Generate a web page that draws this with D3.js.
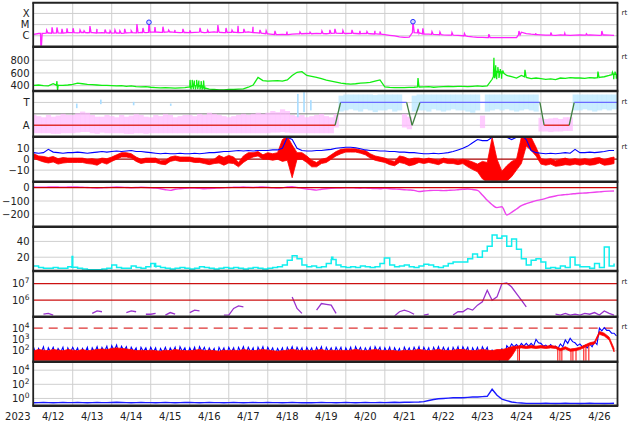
<!DOCTYPE html>
<html><head><meta charset="utf-8">
<script src="https://cdn.jsdelivr.net/npm/d3@7"></script>
<style>
body{margin:0;background:#fff}
svg{display:block}
text{font-family:"DejaVu Sans",sans-serif;fill:#222}
</style></head>
<body><svg id="c" width="634" height="424"></svg>
<script>
// ---------- data (one sample every 3 hours from 2023-04-12 00:00 UT) ----------
const STEP_H = 3;
const dayLabels = ["4/12","4/13","4/14","4/15","4/16","4/17","4/18","4/19","4/20","4/21","4/22","4/23","4/24","4/25","4/26"];
const yearLabel = "2023";

// X-ray flux, log10 W/m2
const xrayLog = [
-5.88,-5.8,-5.78,-5.75,-5.78,-5.74,-5.76,-5.72,
-5.72,-5.74,-5.7,-5.73,-5.72,-5.75,-5.73,-5.74,
-5.76,-5.74,-5.78,-5.75,-5.72,-5.74,-5.7,-5.72,
-5.68,-5.66,-5.7,-5.68,-5.65,-5.7,-5.72,-5.7,
-5.72,-5.7,-5.68,-5.72,-5.7,-5.66,-5.7,-5.72,
-5.7,-5.68,-5.72,-5.7,-5.66,-5.72,-5.75,-5.78,
-5.84,-5.88,-5.9,-5.88,-5.9,-5.86,-5.84,-5.82,
-5.8,-5.82,-5.78,-5.8,-5.82,-5.78,-5.76,-5.78,
-5.8,-5.78,-5.8,-5.82,-5.8,-5.82,-5.84,-5.86,
-5.9,-5.96,-6.02,-6.1,-6.15,-6.12,-5.6,-5.78,
-5.84,-5.86,-5.88,-5.9,-5.92,-5.94,-5.95,-5.97,
-6.0,-6.05,-6.1,-6.14,-6.15,-6.16,-6.17,-6.17,
-6.17,-6.16,-6.17,-6.17,-5.68,-5.8,-5.86,-5.9,
-5.92,-5.95,-5.94,-5.96,-5.93,-5.95,-5.96,-5.94,
-5.93,-5.95,-5.92,-5.94,-5.96,-5.93,-5.95,-5.97];
// short X-ray bursts: [hour, log10 flux]
const xrayBursts = [[4.5,-7.5],[8,-5.5],[11.3,-5.24],[14.3,-5.26],[17.4,-5.39],[20.5,-5.33],[24.2,-5.33],[28.5,-5.48],
[31,-5.55],[34.6,-5.13],[38.9,-5.39],[43.9,-5.44],[47,-5.55],[50,-5.48],[53,-5.55],[56,-5.39],[60,-5.55],[63.5,-4.95],[67.2,-5.3],[70.9,-4.79],[74.6,-5.22],
[79.5,-5.19],[83,-5.5],[86.9,-5.48],[91.8,-5.39],[96,-5.52],[102.3,-5.3],[107,-5.5],[113.3,-5.04],[118.3,-5.3],[122,-5.5],[125.7,-5.1],[129.3,-5.39],
[134.9,-5.19],[139.2,-5.48],[143,-5.55],[148.4,-5.57],[155.8,-5.62],[163.8,-5.66],[170,-5.68],[177.3,-5.57],[182.2,-5.48],[185.3,-5.39],
[190.2,-5.53],[195.8,-5.48],[200.7,-5.57],[205,-5.62],[209.9,-5.55],[213,-5.62],[233.3,-4.74],[236.4,-5.39],[239.4,-5.33],
[245,-5.64],[249.9,-5.66],[257.3,-5.71],[265,-5.8],[280,-5.85],[298.5,-5.57],[308.9,-5.78],[318.1,-5.71],[326.7,-5.78],[340,-5.82],[349.5,-5.57]];
const xrayFlares = [[70.9,-4.79],[233.3,-4.74]];

// solar wind speed km/s
const windSpeed = [
405,410,400,395,430,400,405,410,
420,440,430,420,415,410,405,405,
400,395,400,390,395,385,380,385,
375,370,365,370,365,360,365,370,
380,400,400,360,345,340,335,335,
340,340,345,350,375,410,530,480,
470,475,480,470,490,560,610,620,
560,545,530,510,485,470,455,440,
430,425,430,440,445,450,470,490,
380,372,370,368,370,372,375,380,
380,385,375,380,385,390,385,390,
390,385,390,395,390,395,500,620,
600,560,540,520,560,530,510,520,
510,500,505,495,520,515,525,520,
520,515,525,520,530,540,560,580];
const windSpikes = [[14.3,470],[14.7,330],[96.2,490],[96.8,340],[97.5,490],[98.2,345],[98.8,480],[99.5,340],
[100.2,490],[100.9,345],[101.6,480],[102.3,340],[103,470],[103.7,350],[104.5,480],[105.2,350],[236.4,520],
[283.1,840],[283.6,520],[284.2,720],[284.8,500],[285.5,690],[286.2,520],[287,660],[287.8,510],[288.5,640],
[302.2,650],[347.1,620],[356,610],[356.8,500],[357.6,620],[358.4,510]];

// IMF sector (+1 toward, -1 away): scatter centre and half-spread
const imfMid = [
-0.9,-0.95,-1.0,-0.9,-1.0,-0.95,-0.85,-0.9,
-0.9,-0.8,-0.7,-0.75,-0.9,-1.0,-0.95,-0.9,
-0.95,-1.0,-0.9,-1.0,-0.95,-0.85,-0.9,-1.0,
-1.0,-0.9,-0.95,-0.85,-0.9,-1.0,-0.95,-0.9,
-0.9,-0.95,-0.85,-0.9,-0.8,-0.85,-0.9,-0.95,
-1.0,-0.95,-0.9,-0.85,-0.9,-0.85,-0.8,-0.85,
-0.8,-0.7,-0.75,-0.6,-0.7,-0.9,-0.95,-0.9,
-1.0,-0.95,-0.9,-0.85,-0.95,-1.0,-0.6,0.9,
1.0,1.05,1.0,0.95,1.05,1.0,0.9,1.0,
1.0,1.05,0.95,1.0,-0.6,-0.8,0.9,1.0,
1.0,0.95,1.05,1.0,0.95,1.0,1.05,1.0,
1.0,0.95,0.9,1.0,-0.7,0.95,1.0,1.05,
1.0,1.05,1.0,0.95,1.0,1.05,1.0,0.95,
-0.95,-1.0,-1.0,-0.95,-1.0,-0.9,-0.9,1.0,
1.0,1.05,1.0,0.95,1.0,1.05,1.0,1.05];
const imfSpread = [
.8,.75,.7,.8,.75,.8,.85,.8,
.8,.85,.9,.85,.8,.75,.7,.8,
.75,.7,.8,.75,.8,.85,.8,.75,
.7,.8,.75,.85,.8,.7,.75,.8,
.8,.75,.85,.8,.9,.85,.8,.75,
.7,.75,.8,.85,.8,.85,.9,.85,
.9,.95,.9,1.0,.95,.8,.75,.8,
.7,.75,.8,.85,.75,.7,.6,.7,
.7,.65,.7,.75,.65,.7,.75,.7,
.7,.65,.75,.7,.6,.55,.7,.7,
.7,.75,.65,.7,.75,.7,.65,.7,
.7,.75,.8,.7,.55,.75,.7,.65,
.7,.65,.7,.75,.7,.65,.7,.75,
.6,.55,.6,.6,.55,.6,.6,.7,
.7,.65,.7,.75,.7,.65,.7,.65];
const imfSpots = [[26,0.5,0.9],[40.8,0.85,1.25],[61,0.75,1.05],[83.8,0.7,0.9],[162,-0.3,1.75],[165.8,0.15,1.9],[170,0.3,1.2]];
const sectorHours = [0,185.4,188.8,229.4,232.8,237.6,311.4,314,329.4,332.5,359];
const sectorState = [-1,-1,1,1,-1,1,1,-1,-1,1,1];

// IMF Bt and Bz (nT)
const bt = [
6,5.5,6,9,6.5,6,5.5,6,
6,6.5,6,5.5,6,6.5,7,6.5,
7,7.5,7,7.5,8,7,7,6.5,
6,5.5,5,5.5,5,5,5.5,5,
5,5.5,5,5.5,6,6,6.5,7,
7,7.5,8,7.5,8,7.5,8,8,
8,8.5,8.5,10,20,18,10,8,
7.5,7.5,8,8,8.5,9,10,10.5,
11,11,10.5,9.5,8.5,8,8,7.5,
7.5,7,7,6.5,6.5,6,6,5.5,
5,5,5.5,5,5.5,6,7,8.5,
10,12,15,18,17,17,20,21,
22,20,18,20,22,18,8,6,
5.5,5,5.5,5,5.5,6,5.5,9,
6,6,6.5,6,6.5,7,8,8];
const bzMid = [
3,1,0,-1,0,-2,-1,-1,
-1,-1,-1,-2,-2,-3,-1,-2,
0,2,4,4,3,0,-2,-1,
-1,-1,-3,-3,0,1,0,0,
0,-1,-1,-2,-3,-2,0,-2,
0,-1,-5,0,3,4,5,2,
3,2,3,8,10,-2,3,3,
0,-4,-5,-2,-1,2,5,7,
8,8,8,7,6,3,1,0,
-1,-3,-4,0,-1,-3,-2,-1,
-2,-1,-2,-3,-1,-2,-2,-3,
-2,-4,-6,-8,-10,-12,0,-10,
-16,-13,-9,-5,8,17,14,7,
-2,-3,-2,-4,-3,-2,-3,-2,
-3,-2,-3,-2,-1,-3,-2,-1];
const bzAmp = [
2,2,2.5,2.5,2.5,2.5,2.5,2,
2,2,2,2,2.5,2.5,2,2.5,
2,2,2,2,2,2,2,2,
2,2,1.5,2,2,2,2,2,
2,2,2,2,2,2,3.5,3.5,
3.5,3,2,3,3,2,2,2,
3,3,3,10,11,15,3,3,
3,3,2,2,2,2,2,2,
1.5,1.5,1.5,1.5,2,2,2,2,
2,2,2,3,3,3,3,2,
2,2,2,2,2,2,2,2,
2,3,3.5,3.5,8,9,20,10,
5,7,7,5,12,5,6,4,
2.5,2.5,2.5,2.5,3,3,2.5,2.5,
2.5,2.5,2.5,3,2.5,2.5,3,3];

// Dst (nT)
const dst = [
5,4,3,5,6,5,4,5,
6,5,3,2,0,-2,0,2,
3,5,4,2,0,1,3,2,
0,-3,-8,-15,-20,-12,-8,-5,
-3,-2,-5,-8,-6,-4,-2,0,
2,3,4,5,3,2,4,6,
3,0,-2,0,5,8,2,-5,
-10,-14,-18,-12,-8,-5,-3,-2,
-1,0,-2,-4,-3,-5,-6,-8,
-5,-8,-10,-12,-15,-17,-20,-28,
-25,-22,-20,-20,-22,-20,-18,-15,
-12,-10,-14,-20,-55,-95,-128,-150,
-143,-205,-185,-160,-135,-120,-108,-97,
-90,-80,-70,-62,-56,-52,-48,-45,
-42,-40,-37,-34,-31,-28,-26,-25];

// cyan index
const cyanIdx = [
9,7,6,6,7,6,6,8,
7,6,5,4,4,4,5,6,
10,7,6,6,9,7,6,8,
12,8,7,6,5,6,7,6,
5,6,8,7,6,5,6,7,
6,7,6,5,6,7,6,5,
6,7,8,10,16,22,18,10,
8,9,7,8,12,18,10,8,
7,8,7,9,8,7,8,12,
19,10,8,9,10,8,7,9,
11,10,8,7,9,12,14,14,
14,18,24,20,28,34,48,44,
47,34,43,30,18,10,16,18,
14,6,7,6,9,7,20,10,
8,8,6,12,7,33,9,12];
const cyanSpikes = [[23.6,21],[74.6,12],[183.3,20],[216,19]];

// >2 MeV electron flux, log10 (null = below range)
const electronLog = [
null,null,5.15,5.2,5.1,null,null,5.15,
null,null,null,null,5.2,5.35,5.3,null,
null,null,null,5.25,5.35,5.3,null,5.15,
5.15,5.2,null,5.1,5.25,5.15,null,null,
5.25,5.4,5.35,null,null,null,null,5.1,
5.1,5.5,5.65,5.6,null,null,5.1,null,
null,null,null,null,null,6.2,5.5,5.2,
null,null,5.4,5.8,5.75,5.7,5.2,null,
null,null,null,null,null,null,null,null,
null,null,5.05,5.3,5.4,5.3,5.15,null,
5.1,5.15,null,null,null,null,5.1,5.3,
5.3,5.5,5.4,5.7,5.9,6.6,6.0,6.2,
7.0,7.05,6.8,6.4,6.0,5.6,null,null,
null,null,null,5.15,5.1,5.2,5.1,5.15,
5.1,5.2,5.15,5.25,5.1,5.35,5.2,5.1];

// proton flux, log10: red and blue channels (upper / lower envelope)
const protonRedHi = [
2.0,2.1,2.05,2.0,2.1,2.05,2.0,2.1,
2.05,2.0,2.1,2.0,2.05,2.1,2.15,2.1,
2.2,2.25,2.2,2.15,2.1,2.0,2.05,2.0,
2.05,2.0,1.95,2.05,2.0,2.1,2.05,2.0,
2.0,2.05,2.1,2.0,2.05,2.0,1.95,2.05,
2.0,2.05,2.0,2.1,2.05,2.0,2.05,2.1,
2.05,2.0,1.95,2.0,2.05,2.1,2.05,2.0,
2.05,2.0,2.05,2.1,2.0,2.05,2.0,2.05,
2.0,2.05,2.1,2.05,2.0,2.05,2.1,2.05,
2.0,2.05,2.0,1.95,2.05,2.0,2.05,2.1,
2.05,2.0,2.05,2.1,2.05,2.0,2.05,2.1,
2.1,2.05,2.0,2.05,2.1,2.05,2.0,2.1,
2.1,2.2,2.35,2.4,2.45,2.4,2.45,2.4,
2.45,2.4,2.45,2.4,2.2,2.35,2.15,2.2,
2.3,2.5,2.7,2.8,3.7,3.55,3.2,2.2];
const protonRedLo = [
1,1,1,1,1,1,1,1, 1,1,1,1,1,1,1,1, 1,1,1,1,1,1,1,1, 1,1,1,1,1,1,1,1,
1,1,1,1,1,1,1,1, 1,1,1,1,1,1,1,1, 1,1,1,1,1,1,1,1, 1,1,1,1,1,1,1,1,
1,1,1,1,1,1,1,1, 1,1,1,1,1,1,1,1, 1,1,1,1,1,1,1,1, 1,1,1,1,1,1,1,1,
1,1,1.5,2.2,2.25,2.2,2.25,2.2,
2.25,2.2,2.25,2.2,2.0,2.15,1.95,2.0,
2.1,2.3,2.5,2.6,3.45,3.3,2.95,1.9];
const protonRedDrops = [297.8,298.8,322.4,323.7,324.9,330.5,331.7,333.6,338.4,339.7,341.5];
const protonBlueHi = [
2.3,2.2,2.35,2.25,2.3,2.2,2.3,2.25,
2.3,2.25,2.2,2.3,2.25,2.35,2.3,2.4,
2.45,2.5,2.4,2.35,2.3,2.25,2.3,2.25,
2.3,2.25,2.2,2.3,2.25,2.3,2.35,2.25,
2.25,2.3,2.35,2.3,2.25,2.2,2.3,2.25,
2.3,2.25,2.3,2.35,2.3,2.25,2.3,2.35,
2.3,2.25,2.2,2.25,2.3,2.35,2.3,2.25,
2.3,2.25,2.3,2.35,2.3,2.25,2.3,2.3,
2.25,2.3,2.35,2.3,2.25,2.3,2.35,2.3,
2.25,2.3,2.25,2.2,2.3,2.25,2.3,2.35,
2.3,2.25,2.3,2.35,2.3,2.25,2.3,2.35,
2.35,2.3,2.25,2.3,2.35,2.3,2.1,2.0,
2.2,2.45,2.6,2.55,2.65,2.65,2.65,3.0,
2.65,2.5,2.55,2.4,2.6,2.95,3.1,2.7,
2.6,2.45,2.6,2.8,4.0,4.05,3.8,3.55];
const protonBlueLo = [
1.55,1.8,1.4,1.85,1.6,1.85,1.3,1.8,
1.85,1.5,1.8,1.4,1.85,1.6,1.9,1.5,
2.0,1.6,2.0,1.5,1.9,1.35,1.9,1.6,
1.85,1.4,1.8,1.6,1.85,1.3,1.9,1.55,
1.8,1.45,1.9,1.6,1.8,1.35,1.85,1.5,
1.85,1.4,1.85,1.6,1.85,1.3,1.85,1.55,
1.85,1.5,1.8,1.35,1.85,1.6,1.85,1.4,
1.85,1.5,1.85,1.35,1.85,1.6,1.85,1.45,
1.8,1.4,1.9,1.6,1.8,1.35,1.9,1.55,
1.8,1.45,1.8,1.3,1.85,1.6,1.85,1.5,
1.85,1.4,1.85,1.6,1.85,1.35,1.85,1.55,
1.9,1.4,1.8,1.5,1.9,1.3,1.2,1.1,
1.3,2.2,2.35,2.3,2.4,2.4,2.4,2.7,
2.4,2.3,2.3,2.2,2.35,2.65,2.8,2.45,
2.35,2.25,2.35,2.55,3.75,3.8,3.55,3.3];

// bottom panel, log10
const bottomLog = [
-0.62,-0.6,-0.58,-0.6,-0.62,-0.6,-0.58,-0.6,
-0.6,-0.58,-0.6,-0.62,-0.6,-0.58,-0.6,-0.6,
-0.58,-0.55,-0.58,-0.6,-0.62,-0.6,-0.58,-0.6,
-0.6,-0.62,-0.6,-0.58,-0.6,-0.62,-0.6,-0.58,
-0.58,-0.6,-0.62,-0.6,-0.58,-0.6,-0.6,-0.62,
-0.6,-0.58,-0.6,-0.62,-0.6,-0.58,-0.6,-0.6,
-0.58,-0.6,-0.6,-0.62,-0.6,-0.58,-0.6,-0.62,
-0.6,-0.62,-0.6,-0.58,-0.6,-0.6,-0.62,-0.6,
-0.58,-0.6,-0.62,-0.6,-0.58,-0.6,-0.6,-0.58,
-0.6,-0.58,-0.55,-0.58,-0.55,-0.55,-0.52,-0.5,
-0.45,-0.3,-0.15,-0.05,0.0,0.05,0.1,0.1,
0.1,0.15,0.2,0.2,0.25,0.3,1.3,0.45,
-0.1,-0.3,-0.5,-0.6,-0.65,-0.7,-0.7,-0.7,
-0.7,-0.68,-0.7,-0.72,-0.7,-0.68,-0.7,-0.7,
-0.72,-0.7,-0.68,-0.7,-0.7,-0.72,-0.7,-0.68];

// ---------- layout ----------
const T0 = Date.UTC(2023,3,12);
const HOUR = 3600e3;
const tAt = h => new Date(T0 + h*HOUR);
const X0 = 33.7, X1 = 617.3;
const x = d3.scaleUtc().domain([tAt(0), tAt(359)]).range([X0, X1]);
const tops = [2.7,46.7,91,136.7,181.7,226.7,271,316.7,361.7,405.7];
const svg = d3.select("#c");
const GRID = "#cfcfcf";

const yX = d3.scaleLog().domain([1e-7,1e-3]).range([46.9,2.3]);
const yW = d3.scaleLinear().domain([300,1000]).range([92,47.5]);
const yS = d3.scaleLinear().domain([-2,2]).range([136.65,91.05]);
const yB = d3.scaleLinear().domain([-20.6,20.6]).range([181.7,136.7]);
const yD = d3.scaleLinear().domain([-294,44]).range([226.8,181.85]);
const yC = d3.scaleLinear().domain([0,58]).range([273,227.2]);
const yE = d3.scaleLog().domain([1e5,Math.pow(10,7.77)]).range([316.7,271]);
const yP = d3.scaleLog().domain([10,1e5]).range([362,316.8]);
const yL = d3.scaleLog().domain([0.1,Math.pow(10,5.2)]).range([405.5,361.7]);

const series = arr => arr.map((v,i)=>({h:i*STEP_H, v}));
function baseAt(arr,h){const f=h/STEP_H,i=Math.min(Math.floor(f),arr.length-1),j=Math.min(i+1,arr.length-1),w=f-i;return arr[i]+(arr[j]-arr[i])*w;}
function withSpikes(arr,spikes){
  const pts=series(arr);
  spikes.forEach(([h,v])=>{const b=baseAt(arr,h);pts.push({h:h-0.3,v:b},{h,v},{h:h+0.7,v:b});});
  return pts.sort((a,b)=>a.h-b.h);
}
// envelope drawn as a zig-zag: upper value at each sample, lower value half a step later
function zigzag(hi,lo){
  const pts=[];
  hi.forEach((v,i)=>{pts.push({h:i*STEP_H,v});pts.push({h:i*STEP_H+STEP_H/2,v:lo[i]});});
  return pts;
}
const xh = h => x(tAt(h));

// clip paths
const defs = svg.append("defs");
for(let p=0;p<9;p++){
  defs.append("clipPath").attr("id","cp"+p).append("rect")
    .attr("x",X0).attr("y",tops[p]+1).attr("width",X1-X0).attr("height",tops[p+1]-tops[p]-2);
}

// vertical day grid
const gGrid = svg.append("g");
gGrid.selectAll("line.v").data(d3.utcDay.range(tAt(24),tAt(359))).join("line")
  .attr("x1",d=>x(d)).attr("x2",d=>x(d)).attr("y1",tops[0]).attr("y2",tops[9])
  .attr("stroke",GRID).attr("stroke-width",1);

function hgrid(scale,vals,color,dash,w){
  gGrid.selectAll(null).data(vals).join("line")
    .attr("x1",X0).attr("x2",X1).attr("y1",d=>scale(d)).attr("y2",d=>scale(d))
    .attr("stroke",color||GRID).attr("stroke-width",w||1).attr("stroke-dasharray",dash||null);
}
hgrid(yX,[1e-4,1e-5,1e-6]);
hgrid(yW,[400,600,800]);
hgrid(yS,[1,-1]);
hgrid(yB,[10,-10]);
hgrid(yD,[-100,-200]);
hgrid(yC,[20,40]);
hgrid(yP,[100,1000]);
hgrid(yL,[1,100,1e4]);

const lineH = (ys, tr) => d3.line().defined(d=>d.v!=null).x(d=>xh(d.h)).y(d=>ys(tr?tr(d.v):d.v));
const pow10 = v => Math.pow(10,v);
function panel(p){return svg.append("g").attr("clip-path",`url(#cp${p})`);}

// panel 0: X-ray
const g0 = panel(0);
g0.append("path").datum(withSpikes(xrayLog,xrayBursts)).attr("d",lineH(yX,pow10))
  .attr("fill","none").attr("stroke","#ff22ff").attr("stroke-width",1.3);
g0.selectAll("circle").data(xrayFlares).join("circle")
  .attr("cx",d=>xh(d[0])).attr("cy",d=>yX(pow10(d[1]))).attr("r",2.3)
  .attr("fill","#d8d8ff").attr("stroke","#2233ff").attr("stroke-width",1);

// panel 1: wind speed
const g1 = panel(1);
g1.append("path").datum(withSpikes(windSpeed,windSpikes)).attr("d",lineH(yW))
  .attr("fill","none").attr("stroke","#11ee11").attr("stroke-width",1.3);

// panel 2: IMF sector
const g2 = panel(2);
g2.append("line").attr("x1",X0).attr("x2",X1).attr("y1",yS(0)).attr("y2",yS(0)).attr("stroke","#777").attr("stroke-width",1);
g2.selectAll("rect.b").data(series(imfMid).map((d,i)=>({h:d.h,m:d.v,s:imfSpread[i]}))).join("rect")
  .attr("x",d=>xh(d.h-1.5)).attr("width",d=>xh(d.h+1.5)-xh(d.h-1.5)+0.3)
  .attr("y",d=>yS(d.m+d.s)).attr("height",d=>yS(d.m-d.s)-yS(d.m+d.s))
  .attr("fill",d=>d.m<0?"#ffb8ff":"#b3e5ff").attr("opacity",0.7);
g2.selectAll("rect.s").data(imfSpots).join("rect")
  .attr("x",d=>xh(d[0])).attr("width",1.6).attr("y",d=>yS(d[2])).attr("height",d=>yS(d[1])-yS(d[2]))
  .attr("fill","#a8dcff");
const segs = d3.pairs(sectorHours.map((h,i)=>({h,s:sectorState[i]})));
g2.selectAll("line.sec").data(segs).join("line")
  .attr("x1",d=>xh(d[0].h)).attr("x2",d=>xh(d[1].h)).attr("y1",d=>yS(d[0].s)).attr("y2",d=>yS(d[1].s))
  .attr("stroke",d=>d[0].s!==d[1].s?"#3f7f3f":(d[0].s<0?"#e03030":"#6a6aff")).attr("stroke-width",1.3);

// panel 3: Bz / Bt
const g3 = panel(3);
g3.append("line").attr("x1",X0).attr("x2",X1).attr("y1",yB(0)).attr("y2",yB(0)).attr("stroke","#aa0000").attr("stroke-width",1.2);
g3.append("path").datum(series(bzMid).map((d,i)=>({h:d.h,lo:d.v-bzAmp[i],hi:d.v+bzAmp[i]})))
  .attr("d",d3.area().x(d=>xh(d.h)).y0(d=>yB(d.lo)).y1(d=>yB(d.hi)))
  .attr("fill","#ff0000").attr("stroke","#ff0000").attr("stroke-width",0.8);
g3.append("path").datum(series(bt)).attr("d",lineH(yB))
  .attr("fill","none").attr("stroke","#0000ff").attr("stroke-width",1.1);

// panel 4: Dst
const g4 = panel(4);
g4.append("path").datum(series(dst)).attr("d",lineH(yD).curve(d3.curveMonotoneX))
  .attr("fill","none").attr("stroke","#ee44ee").attr("stroke-width",1.4);
g4.append("line").attr("x1",X0).attr("x2",X1).attr("y1",yD(0)).attr("y2",yD(0)).attr("stroke","#cc0000").attr("stroke-width",1.2);

// panel 5: cyan
const g5 = panel(5);
g5.append("path").datum(withSpikes(cyanIdx,cyanSpikes)).attr("d",lineH(yC).curve(d3.curveStepAfter))
  .attr("fill","none").attr("stroke","#11eeee").attr("stroke-width",1.5);

// panel 6: electrons
const g6 = panel(6);
g6.append("path").datum(series(electronLog)).attr("d",lineH(yE,pow10))
  .attr("fill","none").attr("stroke","#9933cc").attr("stroke-width",1.3);
g6.selectAll("line.r").data([1e6,1e7]).join("line").attr("x1",X0).attr("x2",X1)
  .attr("y1",d=>yE(d)).attr("y2",d=>yE(d)).attr("stroke","#cc1111").attr("stroke-width",1.2);

// panel 7: protons
const g7 = panel(7);
g7.append("line").attr("x1",X0).attr("x2",X1).attr("y1",yP(1e4)).attr("y2",yP(1e4))
  .attr("stroke","#dd3333").attr("stroke-width",1.3).attr("stroke-dasharray","9,6");
g7.append("path").datum(zigzag(protonBlueHi,protonBlueLo)).attr("d",lineH(yP,pow10))
  .attr("fill","none").attr("stroke","#0000ff").attr("stroke-width",1.1);
const bandArea = d3.area().x(d=>xh(d.h)).y0(d=>yP(pow10(d.lo))).y1(d=>yP(pow10(d.hi)));
g7.append("path").datum(series(protonRedHi).map((d,i)=>({h:d.h,hi:d.v,lo:protonRedLo[i]})))
  .attr("d",bandArea).attr("fill","#ff0000").attr("stroke","#ff0000").attr("stroke-width",0.8);
g7.selectAll("line.drop").data(protonRedDrops).join("line")
  .attr("x1",d=>xh(d)).attr("x2",d=>xh(d)).attr("y1",d=>yP(pow10(baseAt(protonRedHi,d)))).attr("y2",362)
  .attr("stroke","#ff0000").attr("stroke-width",1);

// panel 8: bottom
const g8 = panel(8);
g8.append("path").datum(series(bottomLog)).attr("d",lineH(yL,pow10))
  .attr("fill","none").attr("stroke","#1a1aff").attr("stroke-width",1.4);

// frame
const gF = svg.append("g");
tops.forEach((t,i)=>gF.append("line").attr("x1",32.3).attr("x2",618.3).attr("y1",t).attr("y2",t)
  .attr("stroke","#222").attr("stroke-width",i===0?2:2.6));
[33.2,617.5].forEach(v=>gF.append("line").attr("x1",v).attr("x2",v).attr("y1",tops[0]).attr("y2",tops[9]).attr("stroke","#222").attr("stroke-width",1.8));

// left axes
function leftAxis(scale,vals,fmt){
  const g = svg.append("g").attr("transform",`translate(${X0},0)`)
    .call(d3.axisLeft(scale).tickValues(vals).tickFormat(fmt).tickSize(0).tickPadding(4.2));
  g.select(".domain").remove();
  g.attr("font-family","DejaVu Sans").attr("font-size",10);
  g.selectAll("text").attr("fill","#222");
  return g;
}
leftAxis(yX,[1e-4,1e-5,1e-6],d=>({"-4":"X","-5":"M","-6":"C"})[Math.round(Math.log10(d))]);
leftAxis(yW,[400,600,800],d3.format("d"));
leftAxis(yS,[1,-1],d=>d>0?"T":"A");
leftAxis(yB,[10,0,-10],d=>d<0?"\u2212"+(-d):String(d));
leftAxis(yD,[0,-100,-200],d=>d<0?"\u2212"+(-d):String(d));
leftAxis(yC,[20,40],d3.format("d"));
function supAxis(scale,vals){
  const g = leftAxis(scale,vals,()=> "");
  g.selectAll("text").each(function(d){
    const t=d3.select(this); t.text(null);
    t.append("tspan").text("10");
    t.append("tspan").attr("dy",-4).attr("font-size",7.5).text(Math.round(Math.log10(d)));
  });
}
supAxis(yE,[1e7,1e6]);
supAxis(yP,[1e4,1e3,1e2]);
supAxis(yL,[1e4,1e2,1]);

// right "rt" tags
[0,1,2,3,6,7].forEach(p=>svg.append("text").attr("x",621.5).attr("y",tops[p]+12.5)
  .attr("font-size",7).text("rt"));

// time axis labels
svg.append("g").selectAll("text").data(dayLabels).join("text")
  .attr("x",(d,i)=>xh(i*24+12)).attr("y",420).attr("text-anchor","middle").attr("font-size",10).text(d=>d);
svg.append("text").attr("x",30.5).attr("y",420).attr("text-anchor","end").attr("font-size",10).text(yearLabel);
</script></body></html>
